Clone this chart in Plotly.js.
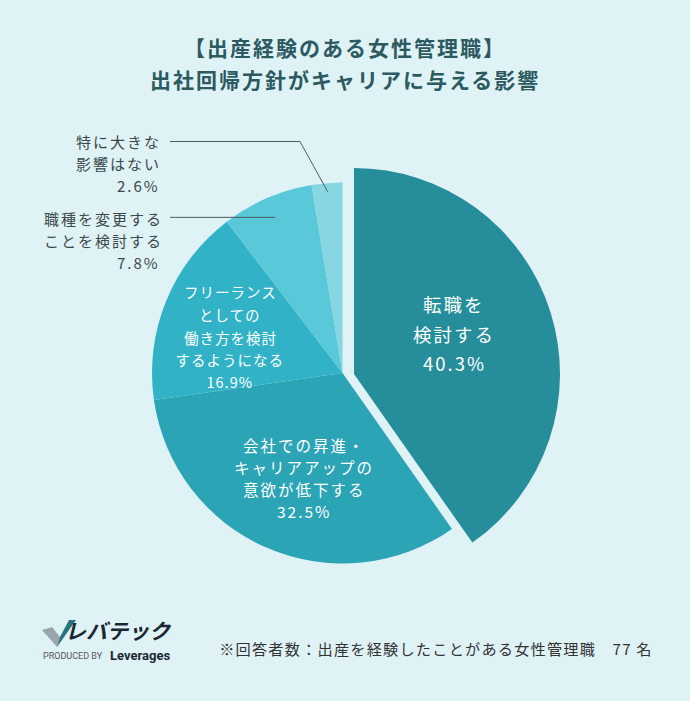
<!DOCTYPE html>
<html>
<head>
<meta charset="utf-8">
<script src="https://cdn.plot.ly/plotly-3.0.1.min.js"></script>
<style>
html,body{margin:0;padding:0;background:#dff2f6;}
#chart{width:690px;height:701px;}
</style>
</head>
<body>
<div id="chart"></div>
<script>
// ---- data ----
const categories = [
  '転職を検討する',
  '会社での昇進・キャリアアップの意欲が低下する',
  'フリーランスとしての働き方を検討するようになる',
  '職種を変更することを検討する',
  '特に大きな影響はない'
];
const values = [40.3, 32.5, 16.9, 7.8, 2.6];
const labelLines = [
  ['転職を', '検討する'],
  ['会社での昇進・', 'キャリアアップの', '意欲が低下する'],
  ['フリーランス', 'としての', '働き方を検討', 'するようになる'],
  ['職種を変更する', 'ことを検討する'],
  ['特に大きな', '影響はない']
];
const titleLines = ['【出産経験のある女性管理職】', '出社回帰方針がキャリアに与える影響'];
const footnote = '※回答者数：出産を経験したことがある女性管理職　77 名';

// ---- style ----
const W = 690, H = 701;
const colors = ['#268e9b', '#2ba4b5', '#32b2c7', '#59c8d8', '#87d6e2'];
const bg = '#dff2f6';
const clear = 'rgba(0,0,0,0)';
const pie = {cx: 342.5, cy: 373, r: 190.5};
const pulled = {cx: 354, cy: 374, r: 206};

const px = x => x / W;
const py = y => 1 - y / H;

const labelStyle = [
  {x: 454, y0: 304, gap: 29.5, size: 18.5, ls: 2, color: '#ffffff', anchor: 'center'},
  {x: 304, y0: 445, gap: 22, size: 15.5, ls: 2, color: '#ffffff', anchor: 'center'},
  {x: 230, y0: 292, gap: 22.5, size: 14.5, ls: 1, color: '#ffffff', anchor: 'center'},
  {x: 158, y0: 218, gap: 22, size: 15, ls: 2, color: '#3b484c', anchor: 'right'},
  {x: 158, y0: 141.5, gap: 22, size: 15, ls: 2, color: '#3b484c', anchor: 'right'}
];

const FONT = '"Noto Sans CJK JP", "Noto Sans", sans-serif';
const annotations = [];
const spacingRules = [];
function addAnn(text, x, y, size, color, anchor, ls, family) {
  spacingRules.push(ls);
  annotations.push({
    text: text, x: px(x), y: py(y), xref: 'paper', yref: 'paper',
    xanchor: anchor, yanchor: 'middle', showarrow: false,
    font: {family: family || FONT, size: size, color: color}
  });
}

// title
titleLines.forEach((t, k) => addAnn('<b>' + t + '</b>', 345, 47 + k * 32, 21, '#2c5a60', 'center', 2));

labelLines.forEach((lines, i) => {
  const s = labelStyle[i];
  const all = lines.concat([values[i].toFixed(1) + '%']);
  all.forEach((t, k) => addAnn(t, s.x, s.y0 + k * s.gap, s.size, s.color, s.anchor, s.ls));
});

// footnote
addAnn(footnote, 638, 648, 15.2, '#333333', 'right', 1.2);
// logo texts
addAnn('<b><i>レバテック</i></b>', 118, 630, 21, '#1b2733', 'center', 0);
addAnn('PRODUCED BY', 41, 656, 9, '#555555', 'left', 0, 'Roboto, sans-serif');
addAnn('<b>Leverages</b>', 108, 655.5, 13, '#1b2733', 'left', 0, 'Roboto, sans-serif');

// leader lines from slice bisectors
const total = values.reduce((a, b) => a + b, 0);
function bisector(i) {
  let before = 0;
  for (let k = 0; k < i; k++) before += values[k];
  return (before + values[i] / 2) / total * 2 * Math.PI;
}
function slicePoint(i, rf) {
  const a = bisector(i);
  return {x: pie.cx + rf * pie.r * Math.sin(a), y: pie.cy - rf * pie.r * Math.cos(a)};
}
const lineColor = '#4d5b60';
const p4 = slicePoint(4, 0.955);
const p3 = slicePoint(3, 0.89);
const shapes = [
  {type: 'path', xref: 'paper', yref: 'paper',
   path: `M${px(170)},${py(141.5)} L${px(300)},${py(141.5)} L${px(p4.x)},${py(p4.y)}`,
   line: {color: lineColor, width: 1}},
  {type: 'line', xref: 'paper', yref: 'paper',
   x0: px(170), y0: py(p3.y), x1: px(p3.x), y1: py(p3.y),
   line: {color: lineColor, width: 1}},
  // logo check mark
  {type: 'path', xref: 'paper', yref: 'paper',
   path: `M${px(42)},${py(630)} L${px(52)},${py(627)} L${px(60)},${py(637)} L${px(57)},${py(647)} Z`,
   fillcolor: '#9aa6ab', line: {width: 0}},
  {type: 'path', xref: 'paper', yref: 'paper',
   path: `M${px(57)},${py(647)} L${px(60)},${py(637)} L${px(69)},${py(620)} L${px(76)},${py(620)} Z`,
   fillcolor: '#27737d', line: {width: 0}}
];

const restValue = values.slice(1).reduce((a, b) => a + b, 0);

const traceMain = {
  type: 'pie',
  labels: categories,
  values: values,
  sort: false,
  direction: 'clockwise',
  rotation: 0,
  textinfo: 'none',
  hoverinfo: 'label+percent',
  showlegend: false,
  marker: {colors: [clear].concat(colors.slice(1)), line: {width: 0}},
  domain: {x: [px(pie.cx - pie.r), px(pie.cx + pie.r)], y: [py(pie.cy + pie.r), py(pie.cy - pie.r)]}
};
const tracePulled = {
  type: 'pie',
  labels: [categories[0], 'その他'],
  values: [values[0], restValue],
  sort: false,
  direction: 'clockwise',
  rotation: 0,
  textinfo: 'none',
  hoverinfo: 'skip',
  showlegend: false,
  marker: {colors: [colors[0], clear], line: {width: 0}},
  domain: {x: [px(pulled.cx - pulled.r), px(pulled.cx + pulled.r)], y: [py(pulled.cy + pulled.r), py(pulled.cy - pulled.r)]}
};

const layout = {
  width: W, height: H,
  margin: {l: 0, r: 0, t: 0, b: 0},
  paper_bgcolor: bg, plot_bgcolor: bg,
  showlegend: false,
  annotations: annotations,
  shapes: shapes
};

const css = spacingRules.map((ls, i) => `.annotation[data-index="${i}"] text{letter-spacing:${ls}px;}`).join('\n');
const st = document.createElement('style');
st.textContent = css;
document.head.appendChild(st);

Plotly.newPlot('chart', [traceMain, tracePulled], layout, {displayModeBar: false, staticPlot: true});
</script>
</body>
</html>
